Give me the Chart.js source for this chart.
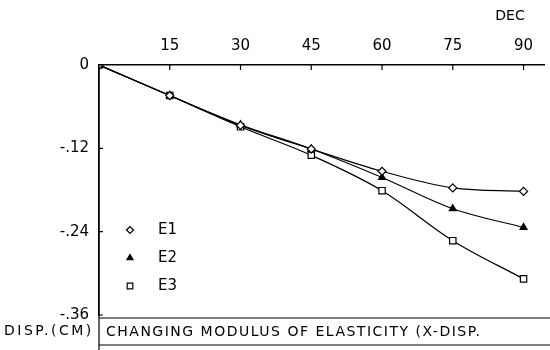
<!DOCTYPE html>
<html>
<head>
<meta charset="utf-8">
<script src="https://cdn.jsdelivr.net/npm/chart.js@4/dist/chart.umd.min.js"></script>
<style>
  body { margin: 0; background: #fff; }
  #wrap { width: 550px; height: 350px; position: relative; }
</style>
</head>
<body>
<div id="wrap"><canvas id="dispChart" width="550" height="350"></canvas></div>
<script>
// angles (DEG) and x-displacement (CM)
var angles = [0, 15, 30, 45, 60, 75, 90];
var e1 = [0, -0.044, -0.087, -0.121, -0.153, -0.177, -0.182];
var e2 = [0, -0.044, -0.086, -0.121, -0.162, -0.207, -0.234];
var e3 = [0, -0.044, -0.089, -0.130, -0.181, -0.253, -0.308];
var xTicks = [15, 30, 45, 60, 75, 90];
var yTicks = [0, -0.12, -0.24, -0.36];
var seriesNames = ['E1', 'E2', 'E3'];

var FONT = 'DejaVu Sans';

function pts(vals) {
	return angles.map(function(a, i) { return { x: a, y: vals[i] }; });
}

function fmtY(v) {
	if (v === 0) return '0';
	return '-.' + Math.abs(v).toFixed(2).split('.')[1];
}

// legend, tick marks and caption box
var extras = {
	id: 'extras',
	afterDraw: function(chart) {
		var ctx = chart.ctx, ca = chart.chartArea;
		var sx = chart.scales.x, sy = chart.scales.y;
		ctx.save();
		ctx.strokeStyle = '#000';
		ctx.lineWidth = 1.2;
		// tick marks pointing inward
		ctx.beginPath();
		xTicks.forEach(function(v) {
			var px = sx.getPixelForValue(v);
			ctx.moveTo(px, ca.top); ctx.lineTo(px, ca.top + 5);
		});
		yTicks.forEach(function(v) {
			var py = sy.getPixelForValue(v);
			ctx.moveTo(ca.left, py); ctx.lineTo(ca.left + 4, py);
		});
		ctx.stroke();

		// legend
		ctx.textBaseline = 'middle';
		chart.data.datasets.forEach(function(ds, i) {
			var ly = 230 + i * 28;
			ctx.fillStyle = ds.pointBackgroundColor;
			ctx.strokeStyle = '#000';
			ctx.lineWidth = 1.2;
			Chart.helpers.drawPoint(ctx, {
				pointStyle: ds.pointStyle, radius: ds.pointRadius - 0.5,
				borderWidth: 1.2
			}, 130, ly);
			ctx.fillStyle = '#000';
			ctx.font = '15px "' + FONT + '"';
			ctx.fillText(seriesNames[i], 158, ly);
		});

		// caption box
		ctx.lineWidth = 1.2;
		ctx.strokeStyle = '#000';
		ctx.beginPath();
		ctx.moveTo(ca.left, ca.bottom + 3); ctx.lineTo(550, ca.bottom + 3);
		ctx.moveTo(ca.left, ca.bottom + 30); ctx.lineTo(550, ca.bottom + 30);
		ctx.moveTo(ca.left, ca.top); ctx.lineTo(ca.left, ca.bottom + 35);
		ctx.stroke();
		ctx.fillStyle = '#000';
		ctx.font = '14px "' + FONT + '"';
		ctx.letterSpacing = '1.5px';
		ctx.textAlign = 'left';
		ctx.fillText('CHANGING MODULUS OF ELASTICITY (X-DISP.', ca.left + 7, ca.bottom + 17);
		ctx.letterSpacing = '2.5px';
		ctx.fillText('DISP.(CM)', 4, ca.bottom + 16);
		ctx.letterSpacing = '0px';
		ctx.textAlign = 'center';
		ctx.fillText('DEC', 510, 16);
		ctx.restore();
	}
};

function makeSet(vals, style, fill, r) {
	return {
		data: pts(vals),
		borderColor: '#000',
		borderWidth: 1.2,
		pointStyle: style,
		pointRadius: r,
		pointBorderColor: '#000',
		pointBackgroundColor: fill,
		pointBorderWidth: 1.2,
		tension: 0.35,
		fill: false
	};
}

new Chart(document.getElementById('dispChart'), {
	type: 'line',
	data: {
		datasets: [
			makeSet(e1, 'rectRot', '#fff', 4),
			makeSet(e2, 'triangle', '#000', 4),
			makeSet(e3, 'rect', '#fff', 4.5)
		]
	},
	options: {
		responsive: false,
		animation: false,
		layout: { padding: { left: 0, top: 0, right: 0, bottom: 35 } },
		plugins: { legend: { display: false }, tooltip: { enabled: false } },
		scales: {
			x: {
				type: 'linear',
				position: 'top',
				min: 0,
				max: 94.4,
				afterBuildTicks: function(s) { s.ticks = xTicks.map(function(v) { return { value: v }; }); },
				afterFit: function(s) { s.height = 65; },
				grid: { display: false, drawTicks: false },
				border: { display: true, color: '#000', width: 1.5 },
				ticks: { color: '#000', padding: 10, maxRotation: 0, font: { family: FONT, size: 15 } }
			},
			y: {
				type: 'linear',
				min: -0.36,
				max: 0,
				afterBuildTicks: function(s) { s.ticks = yTicks.map(function(v) { return { value: v }; }); },
				afterFit: function(s) { s.width = 99; },
				grid: { display: false, drawTicks: false },
				border: { display: true, color: '#000', width: 1.5 },
				ticks: {
					color: '#000', padding: 10,
					font: { family: FONT, size: 15 },
					callback: function(v) { return fmtY(v); }
				}
			}
		}
	},
	plugins: [extras]
});
</script>
</body>
</html>
